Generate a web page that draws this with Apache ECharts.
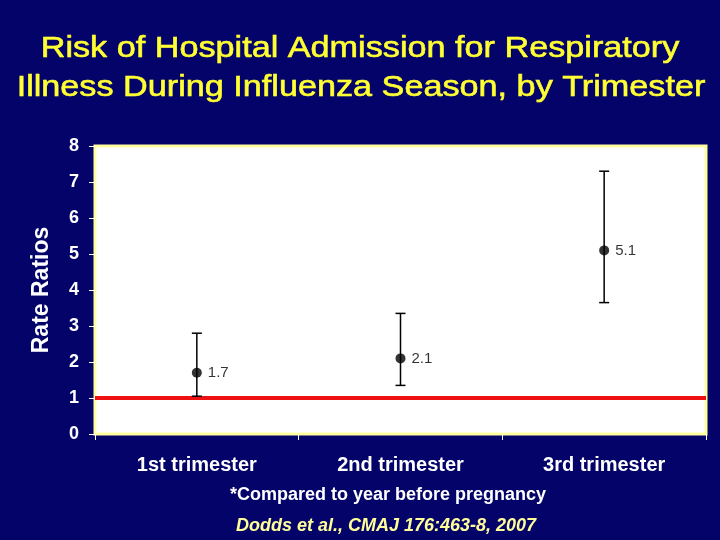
<!DOCTYPE html>
<html>
<head>
<meta charset="utf-8">
<script src="https://cdn.jsdelivr.net/npm/echarts@6/dist/echarts.min.js"></script>
<style>
html,body{margin:0;padding:0;background:#03036a;}
#chart{width:720px;height:540px;}
</style>
</head>
<body>
<div id="chart"></div>
<script>
var categories = ['1st trimester', '2nd trimester', '3rd trimester'];
var rateRatios = [1.7, 2.1, 5.1];
var ciLower = [1.05, 1.35, 3.65];
var ciUpper = [2.8, 3.35, 7.3];
var referenceValue = 1;
var yTicks = [0, 1, 2, 3, 4, 5, 6, 7, 8];
var titleLines = ['Risk of Hospital Admission for Respiratory', 'Illness During Influenza Season, by Trimester'];
var footnote = '*Compared to year before pregnancy';
var source = 'Dodds et al., CMAJ 176:463-8, 2007';

var chart = echarts.init(document.getElementById('chart'));
var ff = '"Liberation Sans", Arial, sans-serif';

var errData = categories.map(function (c, i) { return [i, ciLower[i], ciUpper[i]]; });
var ptData = categories.map(function (c, i) { return [i, rateRatios[i]]; });

chart.setOption({
  backgroundColor: '#03036a',
  animation: false,
  graphic: [
    {
      type: 'text', x: 360, y: 49, scaleX: 1.14,
      style: { text: titleLines[0], fill: '#ffff33', font: 'normal 30px ' + ff, textAlign: 'center', textVerticalAlign: 'middle', stroke: '#ffff33', lineWidth: 0.6 }
    },
    {
      type: 'text', x: 361, y: 88, scaleX: 1.14,
      style: { text: titleLines[1], fill: '#ffff33', font: 'normal 30px ' + ff, textAlign: 'center', textVerticalAlign: 'middle', stroke: '#ffff33', lineWidth: 0.6 }
    },
    {
      type: 'text', x: 388, y: 495,
      style: { text: footnote, fill: '#ffffff', font: 'bold 18px ' + ff, textAlign: 'center', textVerticalAlign: 'middle' }
    },
    {
      type: 'text', x: 386, y: 526,
      style: { text: source, fill: '#ffff99', font: 'italic bold 18px ' + ff, textAlign: 'center', textVerticalAlign: 'middle' }
    }
  ],
  grid: {
    left: 95, right: 14, top: 146, bottom: 106,
    show: true, backgroundColor: '#ffffff', borderColor: '#ffffa0', borderWidth: 3
  },
  xAxis: {
    type: 'category',
    data: categories,
    boundaryGap: true,
    axisLine: { show: false },
    axisTick: { show: true, length: 6, lineStyle: { color: '#ffffff' } },
    axisLabel: { color: '#ffffff', fontFamily: ff, fontSize: 20, fontWeight: 'bold', margin: 21 },
    splitLine: { show: false }
  },
  yAxis: {
    type: 'value',
    min: yTicks[0], max: yTicks[yTicks.length - 1], interval: 1,
    name: 'Rate Ratios',
    nameLocation: 'middle',
    nameGap: 42,
    nameTextStyle: { color: '#ffffff', fontFamily: ff, fontSize: 23, fontWeight: 'bold' },
    axisLine: { show: false },
    axisTick: { show: true, length: 6, lineStyle: { color: '#ffffff' } },
    axisLabel: { color: '#ffffff', fontFamily: ff, fontSize: 18, fontWeight: 'bold', margin: 16 },
    splitLine: { show: false }
  },
  series: [
    {
      type: 'line',
      data: [],
      markLine: {
        silent: true, symbol: 'none',
        label: { show: false },
        lineStyle: { color: '#ee1111', width: 4, type: 'solid' },
        data: [{ yAxis: referenceValue }]
      }
    },
    {
      type: 'custom',
      data: errData,
      z: 5,
      renderItem: function (params, api) {
        var x = api.value(0);
        var lo = api.coord([x, api.value(1)]);
        var hi = api.coord([x, api.value(2)]);
        var w = 5;
        var st = { stroke: '#000000', lineWidth: 1.5 };
        return {
          type: 'group',
          children: [
            { type: 'line', shape: { x1: lo[0], y1: lo[1], x2: hi[0], y2: hi[1] }, style: st },
            { type: 'line', shape: { x1: hi[0] - w, y1: hi[1], x2: hi[0] + w, y2: hi[1] }, style: st },
            { type: 'line', shape: { x1: lo[0] - w, y1: lo[1], x2: lo[0] + w, y2: lo[1] }, style: st }
          ]
        };
      }
    },
    {
      type: 'scatter',
      data: ptData,
      z: 6,
      symbol: 'circle',
      symbolSize: 10,
      itemStyle: { color: '#000000' },
      label: {
        show: true, position: 'right', distance: 6,
        formatter: function (p) { return p.value[1].toFixed(1); },
        color: '#000000', fontFamily: ff, fontSize: 15
      }
    }
  ]
});
</script>
</body>
</html>
